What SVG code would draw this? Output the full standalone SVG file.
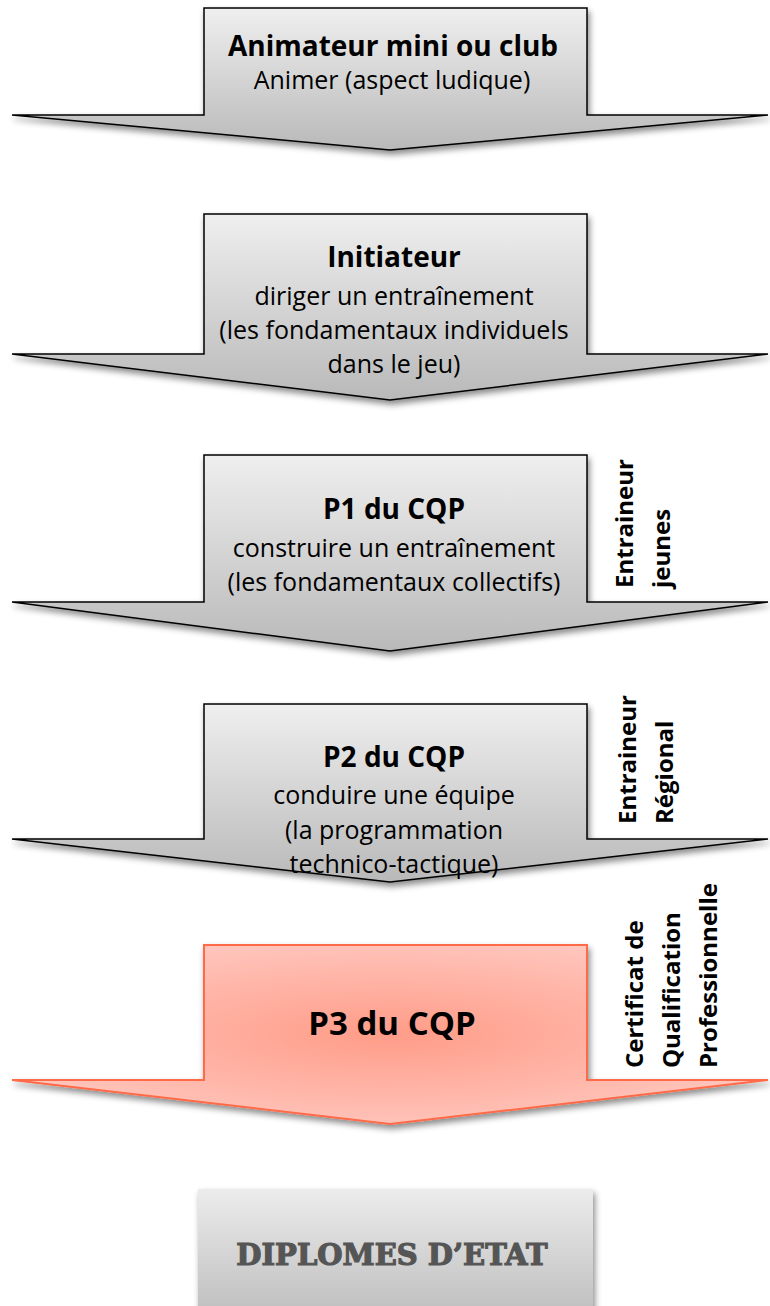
<svg xmlns="http://www.w3.org/2000/svg" width="770" height="1306" viewBox="0 0 770 1306">
<defs>
<linearGradient id="g" x1="0" y1="0" x2="0" y2="1">
<stop offset="0" stop-color="#efefef"/>
<stop offset="1" stop-color="#b9b9b9"/>
</linearGradient>
<radialGradient id="r" cx="0.5" cy="0.5" r="0.6">
<stop offset="0" stop-color="#ff9c88"/>
<stop offset="1" stop-color="#ffcac2"/>
</radialGradient>
<linearGradient id="gd" x1="0" y1="0" x2="0" y2="1">
<stop offset="0" stop-color="#ececec"/>
<stop offset="1" stop-color="#bdbdbd"/>
</linearGradient>
<filter id="sh" x="-10%" y="-10%" width="130%" height="140%">
<feDropShadow dx="2" dy="4" stdDeviation="3" flood-color="#000" flood-opacity="0.45"/>
</filter>
</defs>
<style>
.arr{fill:url(#g);stroke:#000;stroke-width:1.5;filter:url(#sh)}
.red{fill:url(#r);stroke:#ff6a48;stroke-width:2;filter:url(#sh)}
text{font-family:"Open Sans","Liberation Sans",sans-serif;fill:#000;text-anchor:middle}
.b{font-weight:bold;font-size:28px}
.n{font-size:25px}
.v{font-weight:bold;font-size:24px;text-anchor:start}
.de{font-family:"DejaVu Serif","Liberation Serif",serif;font-weight:bold;font-size:29px;fill:#555;stroke:#555;stroke-width:1.2}
</style>
<g id="node1">
<path class="arr" d="M204,8 H587 V115 H768 L390,150 L12,115 H204 Z"/>
<text class="b" x="393" y="56">Animateur mini ou club</text>
<text class="n" x="392" y="89">Animer (aspect ludique)</text>
</g>
<g id="node2">
<path class="arr" d="M204,214 H587 V354 H768 L390,400 L12,354 H204 Z"/>
<text class="b" x="394" y="267">Initiateur</text>
<text class="n" x="394" y="305">diriger un entraînement</text>
<text class="n" x="394" y="339">(les fondamentaux individuels</text>
<text class="n" x="394" y="373">dans le jeu)</text>
</g>
<g id="node3">
<path class="arr" d="M204,455 H587 V602 H768 L390,651 L12,602 H204 Z"/>
<text class="b" x="394" y="519">P1 du CQP</text>
<text class="n" x="394" y="557">construire un entraînement</text>
<text class="n" x="394" y="591">(les fondamentaux collectifs)</text>
<text class="v" transform="translate(633,588) rotate(-90)">Entraineur</text>
<text class="v" transform="translate(670,588) rotate(-90)">jeunes</text>
</g>
<g id="node4">
<path class="arr" d="M204,704 H587 V839 H768 L390,882 L12,839 H204 Z"/>
<text class="b" x="394" y="767">P2 du CQP</text>
<text class="n" x="394" y="804">conduire une équipe</text>
<text class="n" x="394" y="839">(la programmation</text>
<text class="n" x="394" y="873">technico-tactique)</text>
<text class="v" transform="translate(636,824) rotate(-90)">Entraineur</text>
<text class="v" transform="translate(673,824) rotate(-90)">Régional</text>
</g>
<g id="node5">
<path class="red" d="M204,945 H587 V1080 H768 L390,1124 L12,1080 H204 Z"/>
<text class="b" x="392" y="1035" style="font-size:33px">P3 du CQP</text>
<text class="v" transform="translate(643,1068) rotate(-90)">Certificat de</text>
<text class="v" transform="translate(680,1068) rotate(-90)">Qualification</text>
<text class="v" transform="translate(717,1068) rotate(-90)">Professionnelle</text>
</g>
<g id="node6">
<rect x="198" y="1189" width="395" height="130" fill="url(#gd)" filter="url(#sh)"/>
<text class="de" x="392" y="1265">DIPLOMES D’ETAT</text>
</g>
<g id="connectors"></g>
</svg>
